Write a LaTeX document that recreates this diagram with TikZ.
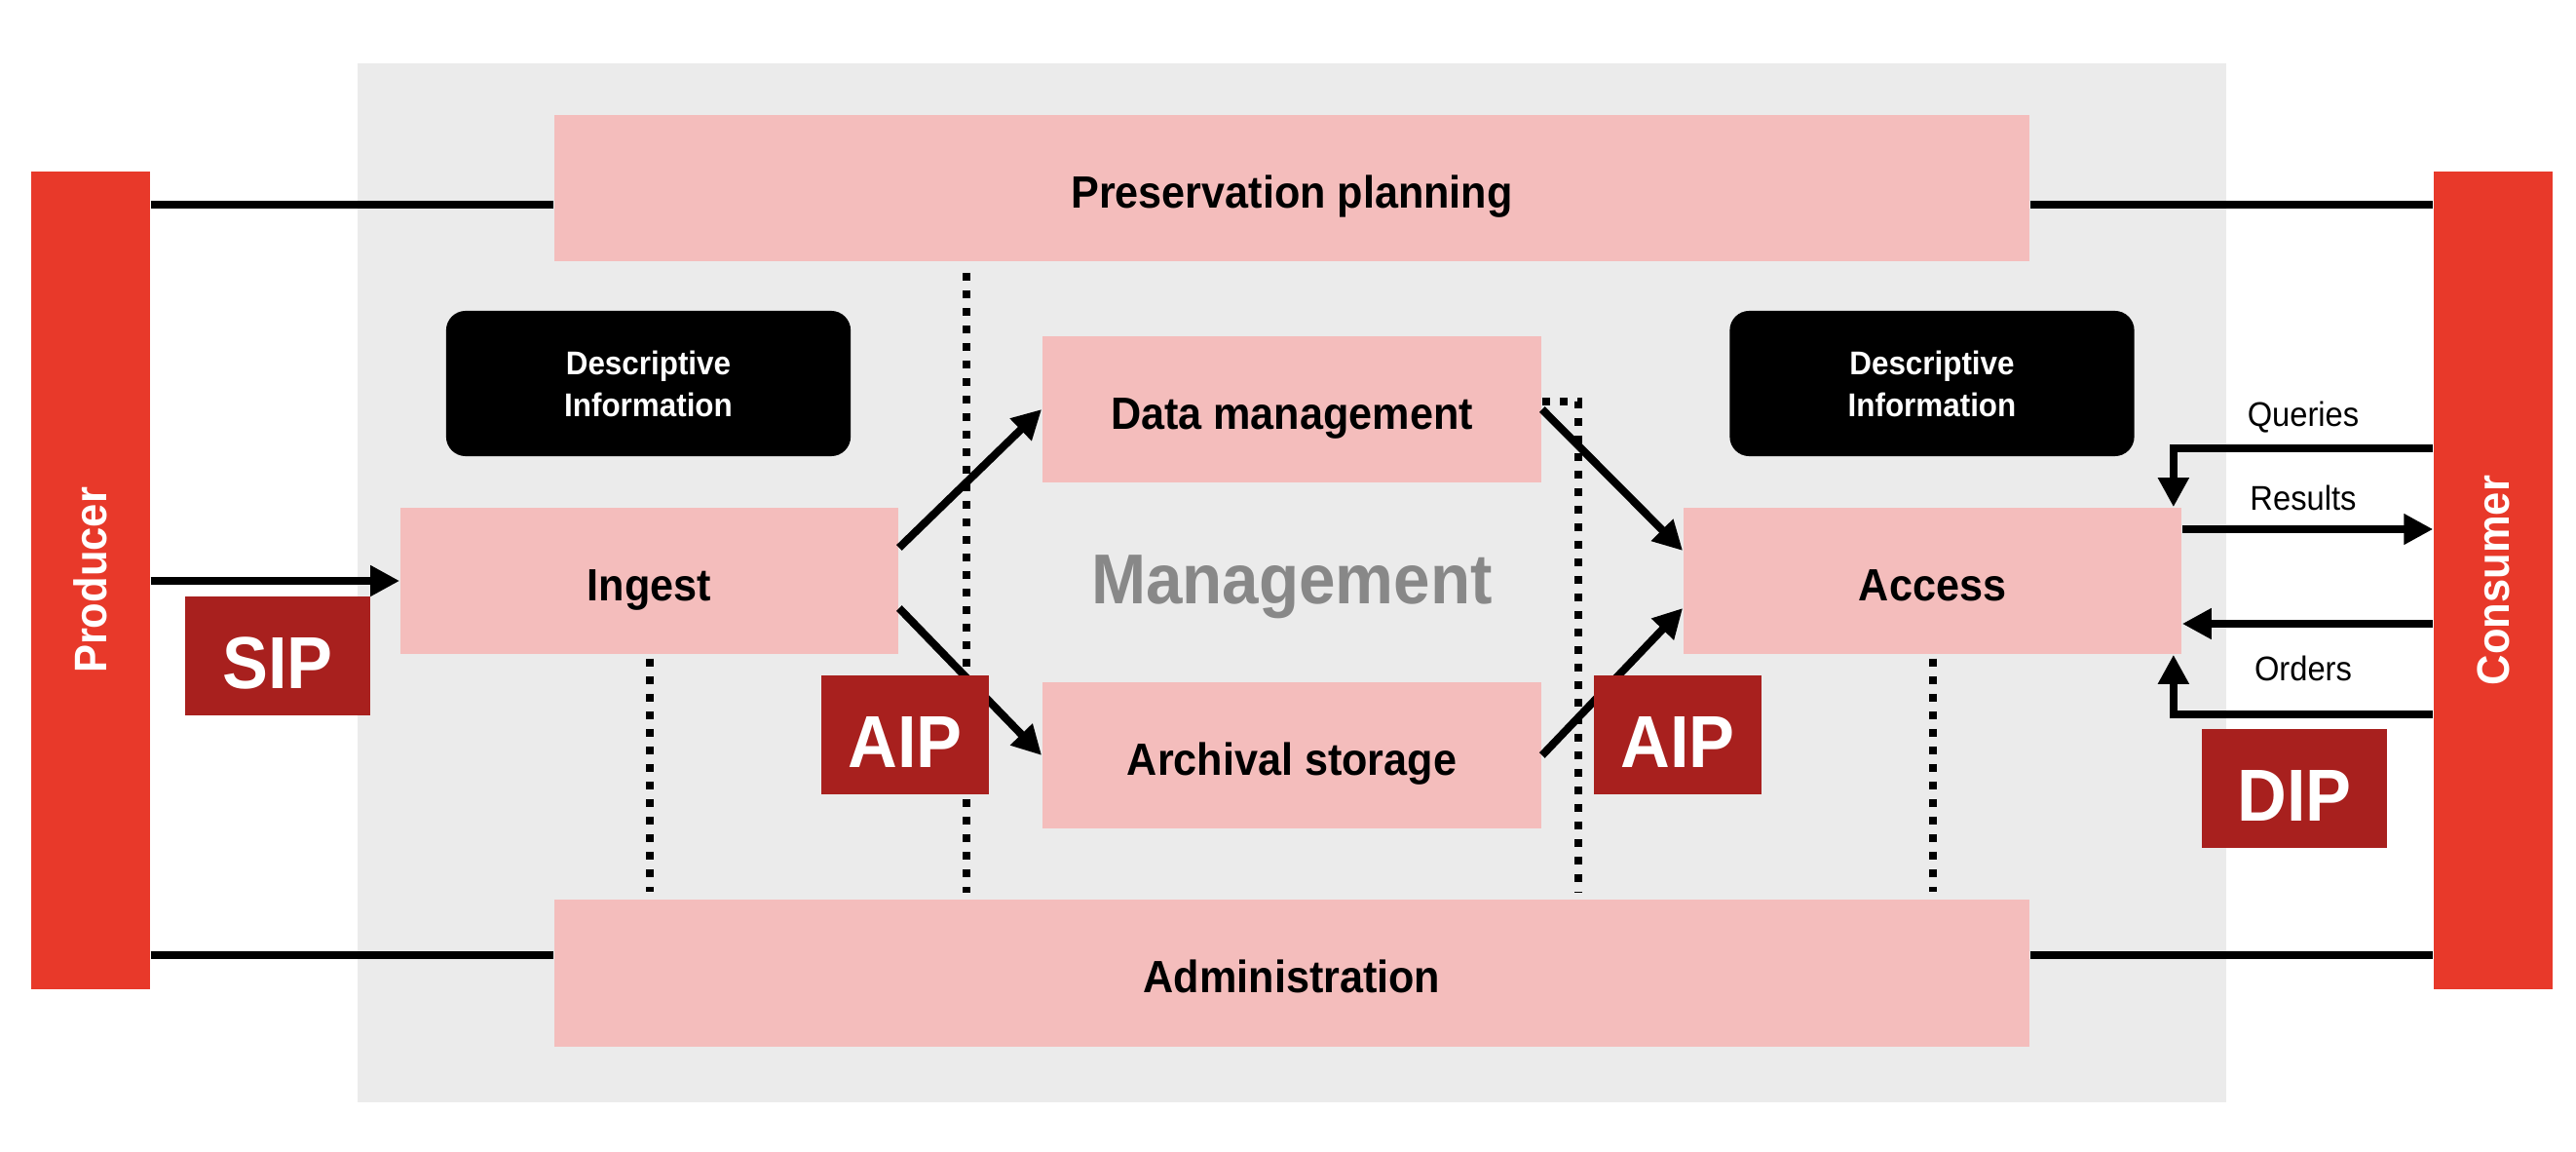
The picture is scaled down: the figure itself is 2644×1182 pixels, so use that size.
\documentclass[tikz,border=0pt]{standalone}
\usepackage{fontspec}
\setmainfont{Liberation Sans}
\newfontfamily\cnd[FakeStretch=0.93]{Liberation Sans}
\usetikzlibrary{arrows.meta,calc}
\definecolor{oaisred}{HTML}{E8392A}
\definecolor{oaisdark}{HTML}{A8201E}
\definecolor{oaispink}{HTML}{F4BDBC}
\definecolor{oaisgray}{HTML}{EBEBEB}
\definecolor{mgmtgray}{HTML}{888888}
\begin{document}
\begin{tikzpicture}[x=0.01cm,y=-0.01cm,
    box/.style={fill=oaispink, minimum width=51.1mm, minimum height=15mm, inner sep=0pt,
        font=\cnd\bfseries\fontsize{13.2}{15}\selectfont, text height=11.4pt, text depth=0pt},
    wide/.style={box, minimum width=151.4mm},
    info/.style={fill=black, rounded corners=2mm, minimum width=41.5mm, minimum height=14.9mm,
        text=white, align=center, font=\cnd\bfseries\fontsize{9.6}{12.2}\selectfont},
    actor/.style={fill=oaisred, minimum width=12.2mm, minimum height=83.9mm, inner sep=0pt},
    actortext/.style={rotate=90, text=white, font=\cnd\bfseries\fontsize{13.3}{15}\selectfont},
    pkg/.style={fill=oaisdark, minimum height=12.2mm, text=white, inner sep=0pt,
        font=\cnd\bfseries\fontsize{21.5}{24}\selectfont, text height=19pt, text depth=0pt},
    link/.style={line width=0.8mm},
    arr/.style={link, -{Triangle[length=3mm,width=3mm]}},
    sep/.style={line width=0.8mm, dash pattern=on 0.8mm off 1mm},
    flow/.style={font=\cnd\fontsize{10}{12}\selectfont}]
        \useasboundingbox (0,0) rectangle (2644,1182);
        \fill[oaisgray] (367,65) rectangle (2285,1131);
        \node[actor, label={[actortext]center:Producer}] (producer) at (93,595.5) {};
        \node[actor, label={[actortext]center:Consumer}] (consumer) at (2559,595.5) {};
        \node[wide] (pres) at (1326,193) {Preservation planning};
        \node[wide] (admin) at (1326,998.5) {Administration};
        \node[box] (ingest) at (666.5,596) {Ingest};
        \node[box] (access) at (1983.5,596) {Access};
        \node[box, minimum width=51.2mm] (dm) at (1326,420) {Data management};
        \node[box, minimum width=51.2mm] (as) at (1326,775) {Archival storage};
        \node[info] (infoL) at (665.5,393.5) {Descriptive\\Information};
        \node[info] (infoR) at (1983,393.5) {Descriptive\\Information};
        \node[font=\cnd\bfseries\fontsize{20.6}{24}\selectfont, text=mgmtgray] (mgmt) at ($(dm)!0.5!(as)+(0,5)$) {Management};
        \draw[sep] ($(ingest.south)+(0,4)$) -- ($(ingest.south |- admin.north)+(0,-8)$);
        \draw[sep] (992,280) -- (992,916);
        \draw[sep] (dm.east |- 0,412) -- (1620,412) -- (1620,916);
        \draw[sep] ($(access.south)+(0,4)$) -- ($(access.south |- admin.north)+(0,-8)$);
        \draw[link] (producer.east |- 0,210) -- (pres.west |- 0,210);
        \draw[link] (pres.east |- 0,210) -- (consumer.west |- 0,210);
        \draw[link] (producer.east |- 0,980) -- (admin.west |- 0,980);
        \draw[link] (admin.east |- 0,980) -- (consumer.west |- 0,980);
        \draw[arr] (producer.east |- ingest.west) -- (ingest.west);
        \draw[arr] ($(ingest.east)+(0,-34)$) -- (dm.west);
        \draw[arr] ($(ingest.east)+(0,28)$) -- (as.west);
        \draw[arr] (dm.east) -- ($(access.west)+(0,-31)$);
        \draw[arr] (as.east) -- ($(access.west)+(0,28)$);
        \coordinate (qry) at ($(access.north east)+(-9,0)$);
        \coordinate (res) at ($(access.east)+(0,-53)$);
        \coordinate (ord) at ($(access.east)+(0,44)$);
        \coordinate (ordb) at ($(access.south east)+(-9,0)$);
        \draw[arr] (consumer.west |- 0,460) -| (qry);
        \draw[arr] (res) -- (res -| consumer.west);
        \draw[arr] (ord -| consumer.west) -- (ord);
        \draw[arr] (consumer.west |- 0,733) -| (ordb);
        \node[flow] (queries) at (2364,428) {Queries};
        \node[flow] (results) at (2364,511) {Results};
        \node[flow] (orders) at (2364,686) {Orders};
        \node[pkg, minimum width=19mm] (sip) at (285,673) {SIP};
        \node[pkg, minimum width=17.2mm] (aipL) at (929,754) {AIP};
        \node[pkg, minimum width=17.2mm] (aipR) at (1722,754) {AIP};
        \node[pkg, minimum width=19mm] (dip) at (2355,809) {DIP};
    \end{tikzpicture}
\end{document}
